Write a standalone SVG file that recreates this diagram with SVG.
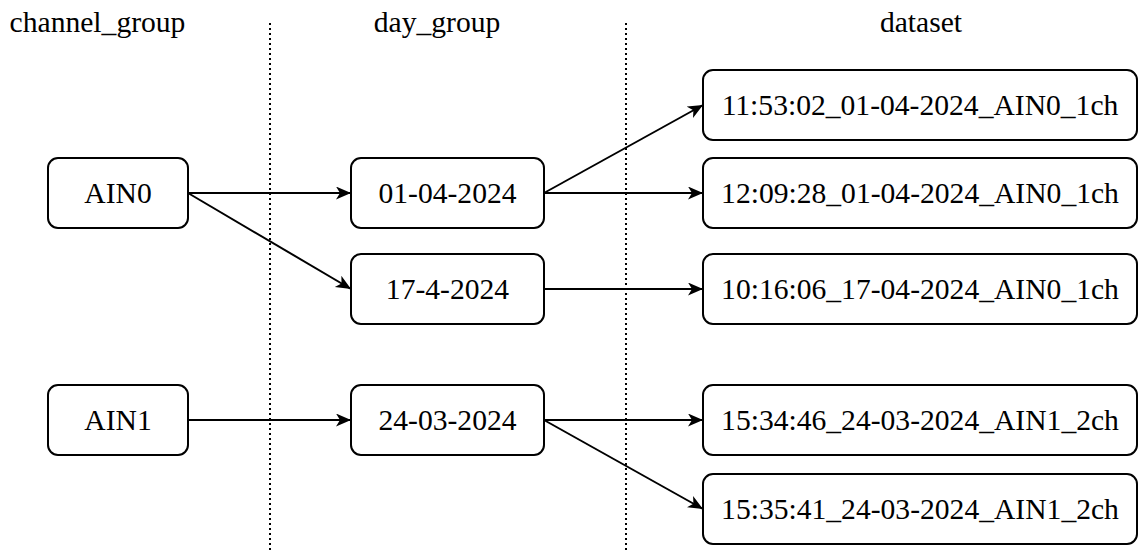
<svg xmlns="http://www.w3.org/2000/svg" width="1139" height="553" viewBox="0 0 1139 553">
<style>
.box{fill:#fff;stroke:#000;stroke-width:2}
.t{font-family:'Liberation Serif','Tinos','DejaVu Serif','Noto Serif',serif;font-size:29.6px;fill:#000;text-anchor:middle}
.c{stroke:#000;stroke-width:2;fill:none}
.sep{stroke:#000;stroke-width:2;stroke-dasharray:2 3;fill:none}
</style>
<defs>
<marker id="ah" markerUnits="userSpaceOnUse" markerWidth="16" markerHeight="14" refX="15" refY="6.5" orient="auto" viewBox="0 0 16 14">
<path d="M0,0 L15,6.5 L0,13 L4,6.5 Z" fill="#000"/>
</marker>
</defs>
<rect width="1139" height="553" fill="#fff"/>
<g id="headers">
<text class="t" x="97.5" y="32">channel_group</text>
<text class="t" x="437" y="32">day_group</text>
<text class="t" x="921" y="32">dataset</text>
</g>
<g id="separators">
<line class="sep" x1="270" y1="23" x2="270" y2="553"/>
<line class="sep" x1="626" y1="23" x2="626" y2="553"/>
</g>
<g id="connectors">
<line class="c" x1="188" y1="193" x2="351" y2="193" marker-end="url(#ah)"/>
<line class="c" x1="188" y1="193" x2="351" y2="289" marker-end="url(#ah)"/>
<line class="c" x1="544" y1="193" x2="703" y2="105" marker-end="url(#ah)"/>
<line class="c" x1="544" y1="193" x2="703" y2="193" marker-end="url(#ah)"/>
<line class="c" x1="544" y1="289" x2="703" y2="289" marker-end="url(#ah)"/>
<line class="c" x1="188" y1="420" x2="351" y2="420" marker-end="url(#ah)"/>
<line class="c" x1="544" y1="420" x2="703" y2="420" marker-end="url(#ah)"/>
<line class="c" x1="544" y1="420" x2="703" y2="509" marker-end="url(#ah)"/>
</g>
<g id="n-ain0"><rect class="box" x="48" y="158" width="140" height="70" rx="10"/><text class="t" x="118" y="203">AIN0</text></g>
<g id="n-ain1"><rect class="box" x="48" y="385" width="140" height="70" rx="10"/><text class="t" x="118" y="430">AIN1</text></g>
<g id="n-d0104"><rect class="box" x="351" y="158" width="193" height="70" rx="10"/><text class="t" x="447.5" y="203">01-04-2024</text></g>
<g id="n-d1704"><rect class="box" x="351" y="254" width="193" height="70" rx="10"/><text class="t" x="447.5" y="299">17-4-2024</text></g>
<g id="n-d2403"><rect class="box" x="351" y="385" width="193" height="70" rx="10"/><text class="t" x="447.5" y="430">24-03-2024</text></g>
<g id="n-ds1"><rect class="box" x="703" y="70" width="434" height="70" rx="10"/><text class="t" x="920" y="115">11:53:02_01-04-2024_AIN0_1ch</text></g>
<g id="n-ds2"><rect class="box" x="703" y="158" width="434" height="70" rx="10"/><text class="t" x="920" y="203">12:09:28_01-04-2024_AIN0_1ch</text></g>
<g id="n-ds3"><rect class="box" x="703" y="254" width="434" height="70" rx="10"/><text class="t" x="920" y="299">10:16:06_17-04-2024_AIN0_1ch</text></g>
<g id="n-ds4"><rect class="box" x="703" y="385" width="434" height="70" rx="10"/><text class="t" x="920" y="430">15:34:46_24-03-2024_AIN1_2ch</text></g>
<g id="n-ds5"><rect class="box" x="703" y="474" width="434" height="70" rx="10"/><text class="t" x="920" y="519">15:35:41_24-03-2024_AIN1_2ch</text></g>
</svg>
